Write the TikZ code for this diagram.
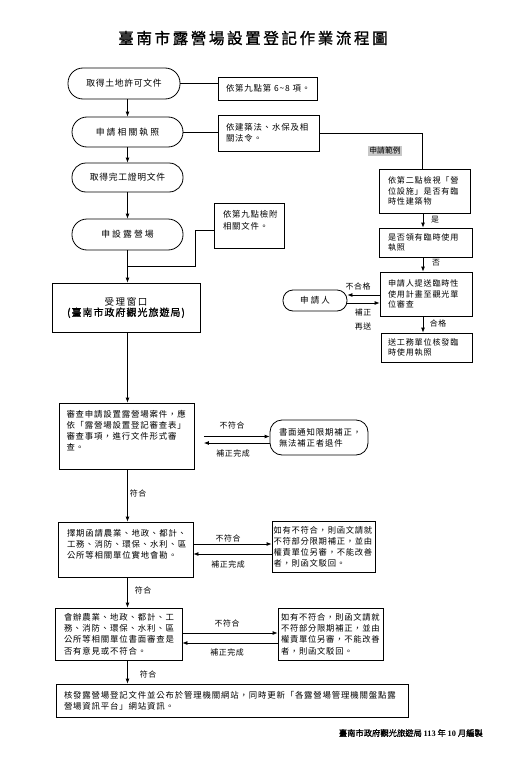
\documentclass[tikz,border=0pt]{standalone}
\usepackage{fontspec}
\usetikzlibrary{arrows.meta}
\newfontfamily\cj{Noto Sans CJK TC}
\newfontfamily\cjb{Noto Sans CJK TC}[FakeBold=1.2]
\newfontfamily\lsb{Liberation Serif}
\begin{document}
\begin{tikzpicture}[x=1pt,y=-1pt,
  ln/.style={line width=0.8pt},
  arr/.style={line width=0.8pt,-{Latex[length=5pt,width=4pt]}},
  stad/.style={draw,line width=0.8pt,rectangle,rounded corners=#1,inner sep=0pt,align=center,
    font=\cj\fontsize{8.8}{11}\selectfont},
  boxt/.style={draw,line width=0.8pt,rectangle,inner sep=0pt,align=left,
    font=\cj\fontsize{8.4}{11.3}\selectfont\addfontfeature{LetterSpace=10}},
  rbox/.style={draw,line width=0.8pt,rectangle,inner sep=0pt,align=left,
    font=\cj\fontsize{8.1}{10.5}\selectfont\addfontfeature{LetterSpace=10}},
  lbl/.style={inner sep=0pt,font=\cj\fontsize{7.9}{10}\selectfont\addfontfeature{LetterSpace=8}}
]
\useasboundingbox (0,0) rectangle (524,768);
\fill[white] (0,0) rectangle (524,768);

\coordinate (mx) at (127.5,0);
\coordinate (rx) at (423,0);

% title
\node[inner sep=0pt,font=\cjb\fontsize{15.5}{18}\selectfont\addfontfeature{LetterSpace=17}] (title) at (253,38) {臺南市露營場設置登記作業流程圖};

% left column top
\node[stad=15pt,minimum width=112pt,minimum height=31pt,font=\cj\fontsize{8.8}{11}\selectfont\addfontfeature{LetterSpace=8}] (n1) at (124,83.5) {取得土地許可文件};
\node[boxt,minimum width=99pt,minimum height=23pt,text width=83pt] (b1) at (267.5,88.5) {\mbox{依第九點第 6{\char126}8 項。}};
\node[stad=15pt,minimum width=111pt,minimum height=30pt,font=\cj\fontsize{8.8}{11}\selectfont\addfontfeature{LetterSpace=24}] (n2) at (127.5,132) {申請相關執照};
\node[boxt,minimum width=101pt,minimum height=36pt,text width=85pt] (b2) at (268.5,133) {依建築法、水保及相\\關法令。};
\node[stad=14pt,minimum width=111pt,minimum height=29pt,font=\cj\fontsize{8.8}{11}\selectfont\addfontfeature{LetterSpace=8}] (n3) at (127.5,177.5) {取得完工證明文件};
\node[stad=15pt,minimum width=111pt,minimum height=31pt,font=\cj\fontsize{8.8}{11}\selectfont\addfontfeature{LetterSpace=24}] (n4) at (127.5,234.5) {申設露營場};
\node[boxt,minimum width=70pt,minimum height=45pt,text width=52pt] (b4) at (249,225.5) {依第九點檢附\\相關文件。\\\mbox{}};
\node[draw,line width=0.8pt,rectangle,inner sep=0pt,minimum width=148pt,minimum height=49pt,align=center] (b5) at (126,307.5)
  {{\cj\fontsize{9.5}{16}\selectfont\addfontfeature{LetterSpace=16}受理窗口}\\[-1pt]{\cjb\fontsize{10}{16}\selectfont\addfontfeature{LetterSpace=10}(臺南市政府觀光旅遊局)}};

% right column
\node[fill=black!22,inner sep=1.2pt,font=\cj\fontsize{7.8}{9}\selectfont] (ex) at (385,151) {申請範例};
\node[rbox,minimum width=91pt,minimum height=44pt,text width=73pt] (r1) at (424.5,191) {依第二點檢視「營\\位設施」是否有臨\\時性建築物};
\node[rbox,minimum width=93pt,minimum height=29pt,text width=75pt] (r2) at (425.5,242.5) {是否領有臨時使用\\執照};
\node[rbox,minimum width=92pt,minimum height=44pt,text width=76pt] (r3) at (426,294) {申請人提送臨時性\\使用計畫至觀光單\\位審查};
\node[rbox,minimum width=91pt,minimum height=29pt,text width=77pt] (r4) at (426.5,347.5) {送工務單位核發臨\\時使用執照};
\node[stad=10pt,minimum width=64pt,minimum height=21pt,font=\cj\fontsize{8.5}{11}\selectfont\addfontfeature{LetterSpace=25}] (p) at (315,300.5) {申請人};

% review steps
\node[boxt,minimum width=135pt,minimum height=66pt,text width=121pt] (b6) at (127,436) {審查申請設置露營場案件，應\\依「露營場設置登記審查表」\\審查事項，進行文件形式審\\查。\\\mbox{}};
\node[stad=12pt,minimum width=98pt,minimum height=35pt,text width=80pt,align=left,font=\cj\fontsize{8.4}{11.3}\selectfont\addfontfeature{LetterSpace=10}] (n7) at (319,437.5) {書面通知限期補正，\\無法補正者退件};
\node[boxt,minimum width=135pt,minimum height=55pt,text width=117pt] (b8) at (125.5,549.5) {擇期函請農業、地政、都計、\\工務、消防、環保、水利、區\\公所等相關單位實地會勘。\\\mbox{}};
\node[boxt,minimum width=103pt,minimum height=51pt,text width=100pt,font=\cj\fontsize{8.3}{11.1}\selectfont\addfontfeature{LetterSpace=9}] (b9) at (323.5,546.5) {如有不符合，則函文請就\\不符部分限期補正，並由\\權責單位另審，不能改善\\者，則函文駁回。};
\node[boxt,minimum width=127pt,minimum height=52pt,text width=109pt] (b10) at (118.5,634) {會辦農業、地政、都計、工\\務、消防、環保、水利、區\\公所等相關單位書面審查是\\否有意見或不符合。};
\node[boxt,minimum width=105pt,minimum height=52pt,text width=99pt,font=\cj\fontsize{8.3}{11.3}\selectfont\addfontfeature{LetterSpace=9}] (b11) at (330.5,634) {如有不符合，則函文請就\\不符部分限期補正，並由\\權責單位另審，不能改善\\者，則函文駁回。};
\node[boxt,minimum width=352pt,minimum height=33pt,text width=336pt] (b12) at (232,700.5) {核發露營場登記文件並公布於管理機關網站，同時更新「各露營場管理機關盤點露\\營場資訊平台」網站資訊。};

\node[anchor=east,inner sep=0pt,font=\cjb\fontsize{8.3}{10}\selectfont] (foot) at (483,733) {臺南市政府觀光旅遊局 {\lsb\bfseries 113} 年 {\lsb\bfseries 10} 月編製};

% main vertical connectors
\draw[arr] (n1.south -| mx) -- (n2.north -| mx);
\draw[arr] (n2.south -| mx) -- (n3.north -| mx);
\draw[arr] (n3.south -| mx) -- (n4.north -| mx);
\coordinate (j) at (127.5,266);
\coordinate (k) at (195,266);
\draw[ln] ([yshift=-4.5pt]b4.west) -| (k) -- (j);
\draw[arr] (n4.south -| mx) -- (b5.north -| mx);
\draw[arr] (b5.south -| mx) -- (b6.north -| mx);
\draw[arr] (b6.south -| mx) -- (b8.north -| mx);
\draw[arr] (b8.south -| mx) -- (b10.north -| mx);
\draw[arr] (b10.south -| mx) -- (b12.north -| mx);

% side connectors top
\draw[ln] (n1) -- (b1.west |- n1);
\draw[ln] (n2) -- (b2.west |- n2);
\draw[ln] (b2.east) -| ([xshift=-2.5pt]r1.north);

% right column
\draw[arr] (r1.south -| rx) -- (r2.north -| rx);
\draw[arr] (r2.south -| rx) -- (r3.north -| rx);
\draw[arr] (r3.south -| rx) -- (r4.north -| rx);
\coordinate (q1) at ([yshift=-1pt]r3.west);
\coordinate (q2) at ([yshift=-9pt]r3.west);
\draw[arr] (q1) -- (q1 -| p.east);
\draw[arr] (q2 -| p.east) -- (q2);

% review loops
\coordinate (g6) at ([xshift=9pt]b6.east);
\coordinate (a1) at ([yshift=1pt]n7.west);
\coordinate (a2) at ([yshift=-5.5pt]n7.west);
\draw[arr] (g6 |- a1) -- (a1);
\draw[arr] (a2) -- (g6 |- a2);
\coordinate (c1) at ([yshift=2.5pt]b9.west);
\coordinate (c2) at ([yshift=-7.5pt]b9.west);
\draw[arr] (b8.east |- c1) -- (c1);
\draw[arr] (c2) -- (b8.east |- c2);
\coordinate (d1) at ([yshift=1pt]b11.west);
\coordinate (d2) at ([yshift=-9pt]b11.west);
\draw[arr] (b10.east |- d1) -- (d1);
\draw[arr] (d2) -- (b10.east |- d2);

% labels
\node[lbl] (l1) at (232,425) {不符合};
\node[lbl] (l2) at (233,453) {補正完成};
\node[lbl] (l3) at (228,538) {不符合};
\node[lbl] (l4) at (228,564) {補正完成};
\node[lbl] (l5) at (227,623) {不符合};
\node[lbl] (l6) at (227,652) {補正完成};
\node[lbl] (l7) at (138,493) {符合};
\node[lbl] (l8) at (143,590) {符合};
\node[lbl] (l9) at (148,674) {符合};
\node[lbl] (l10) at (435,220) {是};
\node[lbl] (l11) at (436,263) {否};
\node[lbl] (l12) at (438,323) {合格};
\node[lbl] (l13) at (358,286) {不合格};
\node[lbl,align=center,font=\cj\fontsize{7.9}{14}\selectfont\addfontfeature{LetterSpace=8}] (l14) at (363,320) {補正\\再送};
\end{tikzpicture}
\end{document}
